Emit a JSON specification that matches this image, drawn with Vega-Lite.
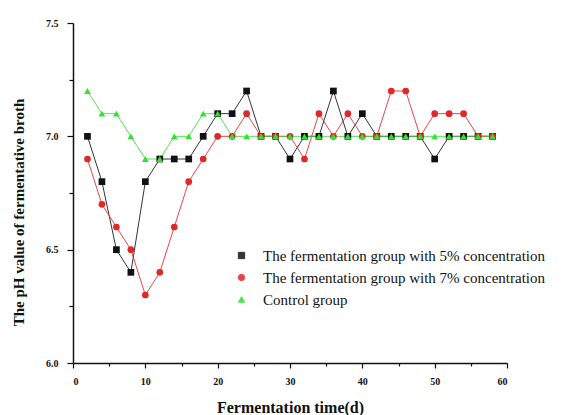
{
  "$schema": "https://vega.github.io/schema/vega-lite/v6.json",
  "width": 434,
  "height": 340,
  "autosize": {"type": "none"},
  "padding": {"left": 73, "top": 23, "right": 55, "bottom": 52},
  "background": "white",
  "config": {
    "view": {"stroke": null},
    "font": "Liberation Serif",
    "axis": {
      "grid": false,
      "domainColor": "#111111",
      "domainWidth": 1.5,
      "tickColor": "#111111",
      "tickWidth": 1.2,
      "labelFont": "Liberation Serif",
      "labelFontWeight": "bold",
      "labelFontSize": 10,
      "labelColor": "#111111",
      "titleFont": "Liberation Serif",
      "titleFontWeight": "bold",
      "titleColor": "#111111"
    },
    "legend": {
      "labelFont": "Liberation Serif, Times New Roman, serif",
      "labelFontSize": 15,
      "labelColor": "#111111",
      "labelLimit": 400
    }
  },
  "datasets": {
    "ph": [
      {"day": 2, "ph": 7.0, "group": "The fermentation group with 5% concentration"},
      {"day": 4, "ph": 6.8, "group": "The fermentation group with 5% concentration"},
      {"day": 6, "ph": 6.5, "group": "The fermentation group with 5% concentration"},
      {"day": 8, "ph": 6.4, "group": "The fermentation group with 5% concentration"},
      {"day": 10, "ph": 6.8, "group": "The fermentation group with 5% concentration"},
      {"day": 12, "ph": 6.9, "group": "The fermentation group with 5% concentration"},
      {"day": 14, "ph": 6.9, "group": "The fermentation group with 5% concentration"},
      {"day": 16, "ph": 6.9, "group": "The fermentation group with 5% concentration"},
      {"day": 18, "ph": 7.0, "group": "The fermentation group with 5% concentration"},
      {"day": 20, "ph": 7.1, "group": "The fermentation group with 5% concentration"},
      {"day": 22, "ph": 7.1, "group": "The fermentation group with 5% concentration"},
      {"day": 24, "ph": 7.2, "group": "The fermentation group with 5% concentration"},
      {"day": 26, "ph": 7.0, "group": "The fermentation group with 5% concentration"},
      {"day": 28, "ph": 7.0, "group": "The fermentation group with 5% concentration"},
      {"day": 30, "ph": 6.9, "group": "The fermentation group with 5% concentration"},
      {"day": 32, "ph": 7.0, "group": "The fermentation group with 5% concentration"},
      {"day": 34, "ph": 7.0, "group": "The fermentation group with 5% concentration"},
      {"day": 36, "ph": 7.2, "group": "The fermentation group with 5% concentration"},
      {"day": 38, "ph": 7.0, "group": "The fermentation group with 5% concentration"},
      {"day": 40, "ph": 7.1, "group": "The fermentation group with 5% concentration"},
      {"day": 42, "ph": 7.0, "group": "The fermentation group with 5% concentration"},
      {"day": 44, "ph": 7.0, "group": "The fermentation group with 5% concentration"},
      {"day": 46, "ph": 7.0, "group": "The fermentation group with 5% concentration"},
      {"day": 48, "ph": 7.0, "group": "The fermentation group with 5% concentration"},
      {"day": 50, "ph": 6.9, "group": "The fermentation group with 5% concentration"},
      {"day": 52, "ph": 7.0, "group": "The fermentation group with 5% concentration"},
      {"day": 54, "ph": 7.0, "group": "The fermentation group with 5% concentration"},
      {"day": 56, "ph": 7.0, "group": "The fermentation group with 5% concentration"},
      {"day": 58, "ph": 7.0, "group": "The fermentation group with 5% concentration"},
      {"day": 2, "ph": 6.9, "group": "The fermentation group with 7% concentration"},
      {"day": 4, "ph": 6.7, "group": "The fermentation group with 7% concentration"},
      {"day": 6, "ph": 6.6, "group": "The fermentation group with 7% concentration"},
      {"day": 8, "ph": 6.5, "group": "The fermentation group with 7% concentration"},
      {"day": 10, "ph": 6.3, "group": "The fermentation group with 7% concentration"},
      {"day": 12, "ph": 6.4, "group": "The fermentation group with 7% concentration"},
      {"day": 14, "ph": 6.6, "group": "The fermentation group with 7% concentration"},
      {"day": 16, "ph": 6.8, "group": "The fermentation group with 7% concentration"},
      {"day": 18, "ph": 6.9, "group": "The fermentation group with 7% concentration"},
      {"day": 20, "ph": 7.0, "group": "The fermentation group with 7% concentration"},
      {"day": 22, "ph": 7.0, "group": "The fermentation group with 7% concentration"},
      {"day": 24, "ph": 7.1, "group": "The fermentation group with 7% concentration"},
      {"day": 26, "ph": 7.0, "group": "The fermentation group with 7% concentration"},
      {"day": 28, "ph": 7.0, "group": "The fermentation group with 7% concentration"},
      {"day": 30, "ph": 7.0, "group": "The fermentation group with 7% concentration"},
      {"day": 32, "ph": 6.9, "group": "The fermentation group with 7% concentration"},
      {"day": 34, "ph": 7.1, "group": "The fermentation group with 7% concentration"},
      {"day": 36, "ph": 7.0, "group": "The fermentation group with 7% concentration"},
      {"day": 38, "ph": 7.1, "group": "The fermentation group with 7% concentration"},
      {"day": 40, "ph": 7.0, "group": "The fermentation group with 7% concentration"},
      {"day": 42, "ph": 7.0, "group": "The fermentation group with 7% concentration"},
      {"day": 44, "ph": 7.2, "group": "The fermentation group with 7% concentration"},
      {"day": 46, "ph": 7.2, "group": "The fermentation group with 7% concentration"},
      {"day": 48, "ph": 7.0, "group": "The fermentation group with 7% concentration"},
      {"day": 50, "ph": 7.1, "group": "The fermentation group with 7% concentration"},
      {"day": 52, "ph": 7.1, "group": "The fermentation group with 7% concentration"},
      {"day": 54, "ph": 7.1, "group": "The fermentation group with 7% concentration"},
      {"day": 56, "ph": 7.0, "group": "The fermentation group with 7% concentration"},
      {"day": 58, "ph": 7.0, "group": "The fermentation group with 7% concentration"},
      {"day": 2, "ph": 7.2, "group": "Control group"},
      {"day": 4, "ph": 7.1, "group": "Control group"},
      {"day": 6, "ph": 7.1, "group": "Control group"},
      {"day": 8, "ph": 7.0, "group": "Control group"},
      {"day": 10, "ph": 6.9, "group": "Control group"},
      {"day": 12, "ph": 6.9, "group": "Control group"},
      {"day": 14, "ph": 7.0, "group": "Control group"},
      {"day": 16, "ph": 7.0, "group": "Control group"},
      {"day": 18, "ph": 7.1, "group": "Control group"},
      {"day": 20, "ph": 7.1, "group": "Control group"},
      {"day": 22, "ph": 7.0, "group": "Control group"},
      {"day": 24, "ph": 7.0, "group": "Control group"},
      {"day": 26, "ph": 7.0, "group": "Control group"},
      {"day": 28, "ph": 7.0, "group": "Control group"},
      {"day": 30, "ph": 7.0, "group": "Control group"},
      {"day": 32, "ph": 7.0, "group": "Control group"},
      {"day": 34, "ph": 7.0, "group": "Control group"},
      {"day": 36, "ph": 7.0, "group": "Control group"},
      {"day": 38, "ph": 7.0, "group": "Control group"},
      {"day": 40, "ph": 7.0, "group": "Control group"},
      {"day": 42, "ph": 7.0, "group": "Control group"},
      {"day": 44, "ph": 7.0, "group": "Control group"},
      {"day": 46, "ph": 7.0, "group": "Control group"},
      {"day": 48, "ph": 7.0, "group": "Control group"},
      {"day": 50, "ph": 7.0, "group": "Control group"},
      {"day": 52, "ph": 7.0, "group": "Control group"},
      {"day": 54, "ph": 7.0, "group": "Control group"},
      {"day": 56, "ph": 7.0, "group": "Control group"},
      {"day": 58, "ph": 7.0, "group": "Control group"}
    ]
  },
  "data": {"name": "ph"},
  "encoding": {
    "x": {
      "field": "day", "type": "quantitative",
      "scale": {"domain": [0, 60], "nice": false},
      "axis": {
        "title": "Fermentation time(d)",
        "titleFontSize": 16,
        "values": [0, 5, 10, 15, 20, 25, 30, 35, 40, 45, 50, 55, 60],
        "labelExpr": "datum.value % 10 === 0 ? datum.label : ''",
        "tickSize": {"condition": {"test": "datum.value % 10 === 0", "value": 5}, "value": 3},
        "labelPadding": 8,
        "titlePadding": 13
      }
    },
    "y": {
      "field": "ph", "type": "quantitative",
      "scale": {"domain": [6.0, 7.5], "nice": false, "zero": false},
      "axis": {
        "title": "The pH value of fermentative broth",
        "titleFontSize": 15,
        "titleX": -47,
        "titleY": 189,
        "values": [6.0, 6.25, 6.5, 6.75, 7.0, 7.25, 7.5],
        "labelExpr": "round(datum.value * 4) % 2 === 0 ? format(datum.value, '.1f') : ''",
        "tickSize": {"condition": {"test": "round(datum.value * 4) % 2 === 0", "value": 6}, "value": 4},
        "labelPadding": 9
      }
    },
    "color": {
      "field": "group", "type": "nominal",
      "scale": {
        "domain": ["The fermentation group with 5% concentration", "The fermentation group with 7% concentration", "Control group"],
        "range": ["#111111", "#e02828", "#33e033"]
      },
      "legend": {
        "title": null,
        "orient": "none",
        "legendX": 161,
        "legendY": 225,
        "symbolSize": 40,
        "symbolStrokeWidth": 1,
        "labelFont": "Liberation Serif, Times New Roman, serif",
        "labelFontSize": 15,
        "labelColor": "#111111",
        "labelOffset": 14,
        "rowPadding": 6,
        "labelLimit": 400
      }
    }
  },
  "layer": [
    {
      "mark": {"type": "line", "strokeWidth": 1, "opacity": 0.85}
    },
    {
      "mark": {"type": "point", "filled": true, "size": 45, "opacity": 1},
      "encoding": {
        "shape": {
          "field": "group", "type": "nominal",
          "scale": {
            "domain": ["The fermentation group with 5% concentration", "The fermentation group with 7% concentration", "Control group"],
            "range": ["square", "circle", "triangle-up"]
          },
          "legend": {
            "title": null,
            "orient": "none",
            "legendX": 161,
            "legendY": 225,
            "symbolSize": 40,
            "symbolStrokeWidth": 1,
            "labelFont": "Liberation Serif, Times New Roman, serif",
            "labelFontSize": 15,
            "labelColor": "#111111",
            "labelOffset": 14,
            "rowPadding": 6,
            "labelLimit": 400
          }
        }
      }
    }
  ]
}
